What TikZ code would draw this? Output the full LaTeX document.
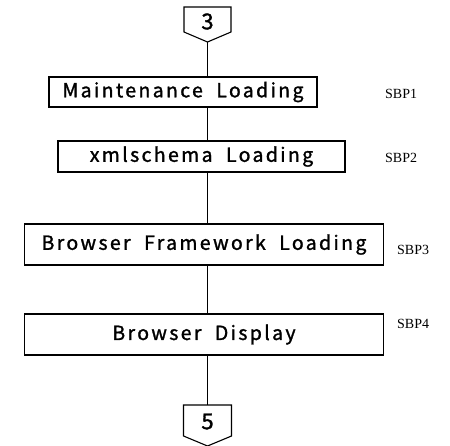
\documentclass[tikz,border=0pt]{standalone}
\usepackage{fontspec}
\setmainfont{Liberation Serif}
\newfontfamily\gothic[LetterSpace=12,FakeBold=1.4]{Noto Sans CJK JP}
\newfontfamily\gothicnum[FakeBold=1.4]{Noto Sans CJK JP}
\begin{document}
\begin{tikzpicture}[x=1pt,y=-1pt,
  stepbox/.style={draw,line width=1.1pt,rectangle,inner sep=0pt,
    font=\gothic\fontsize{19.5}{19.5}\selectfont},
  conn/.style={line width=1.1pt},
  tag/.style={anchor=west,inner sep=0pt,font=\fontsize{14}{14}\selectfont},
  pagenum/.style={inner sep=0pt,font=\gothicnum\fontsize{22}{22}\selectfont}]
\useasboundingbox (0,0) rectangle (450,445);

% off-page connector "3"
\draw[conn] (184,7) -- (231,7) -- (231,32) -- (207.5,42) -- (184,32) -- cycle;
\node[pagenum] (p3) at (207.5,21.5) {3};
\coordinate (top) at (207.5,42);

% process boxes
\node[stepbox,minimum width=268pt,minimum height=30pt] (s1) at (183,92) {Maintenance\ \ Loading};
\node[stepbox,minimum width=287pt,minimum height=31pt] (s2) at (201.5,156.5) {xmlschema\ \ Loading};
\node[stepbox,minimum width=359pt,minimum height=41pt] (s3) at (204,244.5) {Browser\ \ Framework\ \ Loading};
\node[stepbox,minimum width=359pt,minimum height=41pt] (s4) at (204,334.5) {Browser\ \ Display};

% off-page connector "5"
\draw[conn] (183.5,405) -- (231.5,405) -- (231.5,436) -- (207.5,446) -- (183.5,436) -- cycle;
\node[pagenum] (p5) at (207.5,421.5) {5};
\coordinate (bot) at (207.5,405);

% flow line
\draw[conn] (top) -- (top |- s1.north);
\draw[conn] (top |- s1.south) -- (top |- s2.north);
\draw[conn] (top |- s2.south) -- (top |- s3.north);
\draw[conn] (top |- s3.south) -- (top |- s4.north);
\draw[conn] (top |- s4.south) -- (bot);

% step tags
\node[tag] (t1) at (385,94) {SBP1};
\node[tag] (t2) at (385,158) {SBP2};
\node[tag] (t3) at (397,250) {SBP3};
\node[tag] (t4) at (397,324) {SBP4};
\end{tikzpicture}
\end{document}
